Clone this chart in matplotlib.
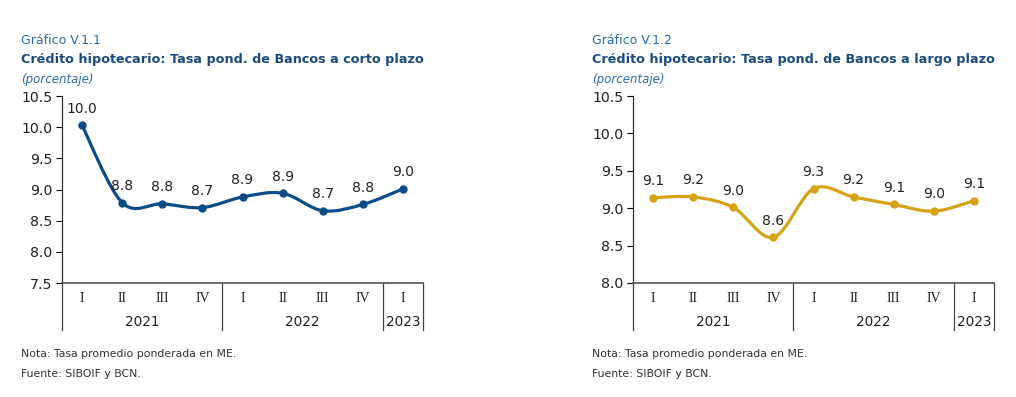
import matplotlib
matplotlib.use("Agg")
import matplotlib.pyplot as plt
from matplotlib.path import Path
from matplotlib.patches import PathPatch
from matplotlib.transforms import blended_transform_factory
import numpy as np

quarters = ["I", "II", "III", "IV", "I", "II", "III", "IV", "I"]
years = ["2021", "2022", "2023"]
year_spans = [(0, 3), (4, 7), (8, 8)]

corto = [10.03, 8.79, 8.77, 8.71, 8.88, 8.94, 8.66, 8.76, 9.01]
largo = [9.14, 9.15, 9.01, 8.61, 9.26, 9.15, 9.05, 8.96, 9.10]

gfx_ids = ["Gráfico V.1.1", "Gráfico V.1.2"]
titles = ["Crédito hipotecario: Tasa pond. de Bancos a corto plazo",
          "Crédito hipotecario: Tasa pond. de Bancos a largo plazo"]
units = "(porcentaje)"
nota = "Nota: Tasa promedio ponderada en ME."
fuente = "Fuente: SIBOIF y BCN."

W, H = 1016, 397
fig = plt.figure(figsize=(W / 100, H / 100), dpi=100)
fig.patch.set_facecolor("white")


def smooth_path(x, y, t=1 / 6):
    x = np.asarray(x, float)
    y = np.asarray(y, float)
    n = len(x)
    verts = [(x[0], y[0])]
    codes = [Path.MOVETO]
    for i in range(n - 1):
        x0, y0 = (x[i - 1], y[i - 1]) if i > 0 else (x[i], y[i])
        x3, y3 = (x[i + 2], y[i + 2]) if i + 2 < n else (x[i + 1], y[i + 1])
        c1 = (x[i] + (x[i + 1] - x0) * t, y[i] + (y[i + 1] - y0) * t)
        c2 = (x[i + 1] - (x3 - x[i]) * t, y[i + 1] - (y3 - y[i]) * t)
        verts += [c1, c2, (x[i + 1], y[i + 1])]
        codes += [Path.CURVE4] * 3
    return Path(verts, codes)


def draw(ax_px, values, color, ylim, yticks, gid, title, tx):
    l, r, top, bot = ax_px
    ax = fig.add_axes([l / W, 1 - bot / H, (r - l) / W, (bot - top) / H])
    x = np.arange(len(values))
    ax.set_xlim(-0.5, len(values) - 0.5)
    ax.set_ylim(*ylim)
    ax.set_yticks(yticks)
    ax.set_yticklabels([f"{v:.1f}" for v in yticks], fontsize=10.2,
                       family="DejaVu Sans", color="#222222")
    ax.tick_params(axis="y", length=4, width=0.8, direction="out", pad=3)
    ax.set_xticks([])
    for s in ["top", "right"]:
        ax.spines[s].set_visible(False)
    ax.spines["left"].set_color("#333333")
    ax.spines["bottom"].set_color("#555555")
    ax.spines["left"].set_linewidth(0.9)
    ax.spines["bottom"].set_linewidth(1.2)
    ax.spines["left"].set_bounds(ylim[0], ylim[1])

    patch = PathPatch(smooth_path(x, values), facecolor="none",
                      edgecolor=color, lw=2.3, capstyle="round", zorder=3)
    ax.add_patch(patch)
    ax.plot(x, values, "o", color=color, ms=5, zorder=4, clip_on=False)
    for xi, v in zip(x, values):
        ax.annotate(f"{v:.1f}", (xi, v), xytext=(0, 7), textcoords="offset points",
                    ha="center", va="bottom", fontsize=10, family="DejaVu Sans",
                    color="#222222")

    tr = blended_transform_factory(ax.transData, ax.transAxes)
    seps = [-0.5] + [e + 0.5 for _, e in year_spans]
    for sx in seps:
        ax.plot([sx, sx], [0, -0.25], color="#444444", lw=0.9,
                transform=tr, clip_on=False)
    for xi, q in zip(x, quarters):
        ax.text(xi, -0.085, q, transform=tr, ha="center", va="center",
                fontsize=10, family="Liberation Serif", color="#222222")
    for yr, (s, e) in zip(years, year_spans):
        ax.text((s + e) / 2, -0.21, yr, transform=tr, ha="center", va="center",
                fontsize=9.8, family="DejaVu Sans", color="#222222")

    fig.text(tx / W, 1 - 41 / H, gid, fontsize=9, color="#2f6aa6",
             family="DejaVu Sans", va="center", ha="left")
    fig.text(tx / W, 1 - 59 / H, title, fontsize=9.15, color="#1a4c7e",
             family="DejaVu Sans", weight="bold", va="center", ha="left")
    fig.text(tx / W, 1 - 79 / H, units, fontsize=8.5, color="#2f6aa6",
             family="DejaVu Sans", style="italic", va="center", ha="left")
    fig.text(tx / W, 1 - 354 / H, nota, fontsize=7.8, color="#333333",
             family="DejaVu Sans", va="center", ha="left")
    fig.text(tx / W, 1 - 374 / H, fuente, fontsize=7.8, color="#333333",
             family="DejaVu Sans", va="center", ha="left")
    return ax


draw((62, 423, 96, 283), corto, "#0b4c86", (7.5, 10.5),
     [7.5, 8.0, 8.5, 9.0, 9.5, 10.0, 10.5], gfx_ids[0], titles[0], 21)
draw((633, 994, 96, 283), largo, "#d6a315", (8.0, 10.5),
     [8.0, 8.5, 9.0, 9.5, 10.0, 10.5], gfx_ids[1], titles[1], 592)

fig.savefig("out.png", dpi=100, facecolor="white")
